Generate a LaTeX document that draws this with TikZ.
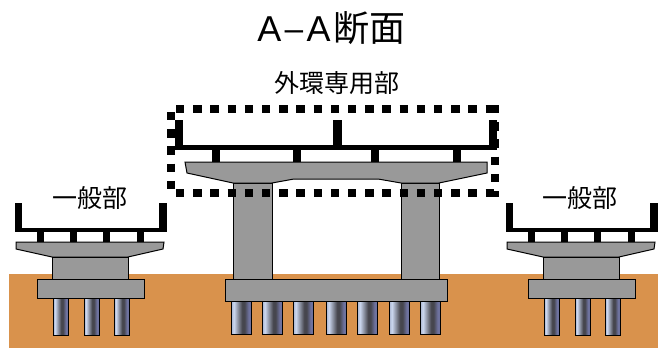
\documentclass[tikz,border=0pt]{standalone}
\usepackage{fontspec}
\setmainfont{Noto Sans CJK JP}
\newfontfamily\latinfont{Liberation Sans}
\definecolor{soil}{HTML}{D9924C}
\definecolor{concrete}{HTML}{999999}
\definecolor{pileedge}{HTML}{A4B0CC}
\definecolor{pilelight}{HTML}{CCD8F0}
\definecolor{piledark}{HTML}{46464E}
\definecolor{pileright}{HTML}{6E729E}
\pgfdeclarehorizontalshading{pileshade}{100bp}{
  color(0bp)=(pileedge);
  color(25bp)=(pileedge);
  color(32bp)=(pilelight);
  color(52bp)=(piledark);
  color(58bp)=(piledark);
  color(68bp)=(pileright);
  color(100bp)=(pileright)}
\tikzset{
  concretepart/.style={draw=black,line width=1pt,fill=concrete},
  pilepart/.style={draw=black,line width=1pt,shading=pileshade},
  steelpart/.style={fill=black},
  dotline/.style={line width=8.2pt,dash pattern=on 8.3pt off 8.9pt},
  labeltext/.style={font=\fontsize{25}{25}\selectfont,inner sep=0pt}
}
\newcommand{\smallpier}{
  % girder
  \fill[steelpart] (0,203) rectangle (7,232);
  \fill[steelpart] (0,227.5) rectangle (152,232);
  \fill[steelpart] (144,203) rectangle (152,232);
  \foreach \xs in {22,55,88,122} {
    \fill[steelpart] (\xs,230) rectangle (\xs+7,243);
  }
  % cap, column, footing
  \draw[concretepart] (1,242) -- (149,242) -- (148,249) -- (113,257) -- (37,257) -- (1,249) -- cycle;
  \draw[concretepart] (37,257) rectangle (113,279);
  \foreach \xs in {38,69,99} {
    \draw[pilepart] (\xs,298) rectangle (\xs+15,335);
  }
  \draw[concretepart] (22,279) rectangle (129,298);
}
\begin{document}
\begin{tikzpicture}[x=1pt,y=-1pt]
\useasboundingbox (0,0) rectangle (658,348);
\fill[soil] (9,274) rectangle (658,348);

\begin{scope}[xshift=15pt]
  \smallpier
\end{scope}
\begin{scope}[xshift=506pt]
  \smallpier
\end{scope}

% large pier
\fill[steelpart] (175,120) rectangle (183,149);
\fill[steelpart] (333,120) rectangle (342,149);
\fill[steelpart] (489,120) rectangle (497,149);
\fill[steelpart] (175,145) rectangle (497,149.5);
\foreach \xs in {212,293,371,453} {
  \fill[steelpart] (\xs,148) rectangle (\xs+7.5,163);
}
\draw[concretepart] (233,183) rectangle (272,279);
\draw[concretepart] (401,183) rectangle (439,279);
\draw[concretepart] (185,162) -- (487,162) -- (487,173) -- (439,183) -- (401,183) -- (378,179)
  -- (294,179) -- (272,183) -- (233,183) -- (187,173) -- cycle;
\foreach \xs in {231,262,293,326,357,389,420} {
  \draw[pilepart] (\xs,301) rectangle (\xs+20.5,334);
}
\draw[concretepart] (225,279) rectangle (447,301);

% dotted frame
\draw[dotline] (176,109) -- (499,109);
\draw[dotline] (176,193) -- (499,193);
\draw[dotline] (171,112) -- (171,191);
\draw[dotline] (495,105) -- (495,197);

% labels
\node[inner sep=0pt,font=\fontsize{36}{36}\selectfont] (title) at (331.5,28)
  {{\latinfont A\raisebox{1.5pt}{\scalebox{2.1}[.8]{-}}A\kern3pt}断面};
\node[labeltext] (ringlabel) at (337,83) {外環専用部};
\node[labeltext] (leftlabel) at (90,198) {一般部};
\node[labeltext] (rightlabel) at (580,198) {一般部};
\end{tikzpicture}
\end{document}
